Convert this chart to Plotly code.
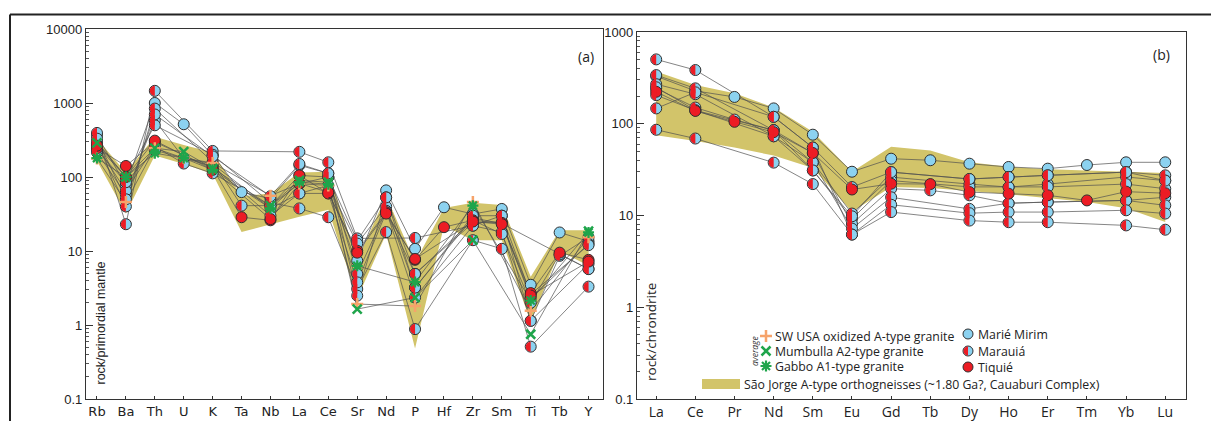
import plotly.graph_objects as go

W, H = 1211, 421

# ---------------- data : panel (a) spider diagram ----------------
elems_a = ["Rb", "Ba", "Th", "U", "K", "Ta", "Nb", "La", "Ce", "Sr",
           "Nd", "P", "Hf", "Zr", "Sm", "Ti", "Tb", "Y"]

band_a_upper = [330, 115, 350, 270, 215, 55, 60, 115, 118, 7.5,
                56, 7.0, 38, 45, 42, 4.5, 19, 19]
band_a_lower = [165, 32, 195, 150, 110, 18, 23, 29, 36, 2.3,
                17, 0.48, 22, 14, 14, 1.1, 10, 6.3]

marie_a = [
    [366, 77, 1000, 516, 196, 62.5, 51, 144, 112, 7.4, 66, 10.7, 39, 31.6, 37, 3.5, 17.8, 13.5],
]
tiquie_a = [
    [245, 141, 297, None, 131, 28.6, 26, 105, 60, 10.1, 33.5, 7.6, 21, 26, 24, 2.7, 9.5, 7.6],
    [265, 100, 310, None, 125, None, 27, 82, 62, 9.5, 32, 7.8, None, 25, 23, 2.5, None, 7.2],
]
marauia_a = [
    [394, 23, 1460, None, 225, None, None, 219, 158, 14.8, None, 15, None, 22, 30, 1.14, 8.6, 15.3],
    [285, 40, 840, None, 160, 41, 41, 105, 100, 13.8, 53, 4.9, None, 24, 24.6, 2.3, None, 12.5],
    [215, 58, 585, 180, 150, None, 37.6, 60, 77, 12.6, 40, 3.2, None, 28, 23.5, None, 9, 5.7],
    [300, 100, 500, None, 200, None, 45, 37.6, 28.6, 3.06, 18, 0.88, None, 14, 10.7, 0.51, None, 3.3],
    [260, 65, 260, 152, 112, None, 41, 81, 100, 4.9, 35, 2.35, None, 22, 18, 1.14, None, 6.7],
    [230, 85, 230, None, 140, None, 30, 60, 60, 3.77, 33, 4.9, None, 26, 17, 2.0, 9, 5.7],
    [330, 50, 700, None, 190, None, 55, 150, 112, 2.49, 53, 3.2, None, 30, 30, 2.6, None, 12],
]
sw_usa_a = [178, 46, 245, 180, 155, None, 56, 81, 77, 1.92, None, 1.8, None, 46, None, 1.56, None, 15.3]
mumbulla_a = [290, 100, 245, 220, 131, None, 41, 90, 85, 1.64, None, 2.35, None, 14, None, 0.75, None, 18.5]
gabbo_a = [180, 100, 210, 180, 125, None, 37.6, 85, 80, 6.3, None, 3.8, None, 41, None, 2.14, None, 17.8]

# ---------------- data : panel (b) REE diagram ----------------
elems_b = ["La", "Ce", "Pr", "Nd", "Sm", "Eu", "Gd", "Tb", "Dy", "Ho", "Er", "Tm", "Yb", "Lu"]

band_b_upper = [370, 265, 215, 150, 82, 30, 56, 51, 38, 34, 32, 31, 30, 29]
band_b_lower = [75, 65, 55, 45, 33, 11, 20.5, 20, 18.5, 17, 15.5, 14, 12, 8.5]

marie_b = [
    [330, 228, 196, 147, 76, 30, 41.6, 40, 36.7, 33.8, 32.4, 35.5, 38, 38],
]
tiquie_b = [
    [223, 138, 105, 81, 48, 19.2, 22.2, 22, 18, 17.3, 16.6, 14.6, 18.2, 17.5],
]
marauia_b = [
    [503, 385, None, 119, 55, 20.4, 29.7, None, 25, 26.3, 27.4, None, 29.7, 27.4],
    [339, 243, None, 85, 38, 10.5, 26.2, None, 22, 20.4, 22, None, 26.3, 24],
    [270, 210, None, 73, 31, 9.2, 24, None, 20.5, 20.4, 20.5, None, 22, 19.6],
    [243, 150, 111, 85, 48, 8.1, 19.6, 18.8, 16.6, 13.6, 14, None, 14.6, 15.8],
    [205, 140, None, 73, 38, 7.2, 15.8, None, 11.8, 13.6, 14, None, 14.6, 12.9],
    [147, 220, None, 119, 55, 6.2, 13.1, None, 10.6, 10.9, 10.9, None, 11.4, 10.5],
    [86, 69, None, 37.7, 22, 6.2, 10.9, None, 8.8, 8.45, 8.45, None, 7.8, 7.0],
    [250, 140, None, 85, 31, 9.8, 29.7, None, 25, 26.3, 27.4, None, 29.7, 24],
]

legend_avg = ["SW USA oxidized A-type granite", "Mumbulla A2-type granite", "Gabbo A1-type granite"]
legend_groups = ["Marié Mirim", "Marauiá", "Tiquié"]
legend_band = "São Jorge A-type orthogneisses (~1.80 Ga?, Cauaburi Complex)"

# ---------------- styles ----------------
BLUE = "#8cd2f0"
RED = "#ec1c24"
EDGE = "#2f2f2f"
BAND = "#d2c46a"
LINE = "#505050"
ORANGE = "#f6a36a"
GREEN = "#1fa54b"
MS = 11

PLUS_PATH = "M-6,0 L6,0 M0,-6 L0,6"
X_PATH = "M-4.5,-4.5 L4.5,4.5 M-4.5,4.5 L4.5,-4.5"
AST_PATH = "M-5.5,0 L5.5,0 M0,-5.5 L0,5.5 M-4,-4 L4,4 M-4,4 L4,-4"


def half_path(r):
    k = 0.5523 * r
    return f"M0,{r} C{-k},{r} {-r},{k} {-r},0 C{-r},{-k} {-k},{-r} 0,{-r} Z"


fig = go.Figure()
shapes = []


def px_x(v):
    return v / W


def px_y(v):
    return 1 - v / H


def add_panel(xa, ya, cats, up, lo, marie, tiquie, marauia, avgs):
    fig.add_trace(go.Scatter(
        x=cats + cats[::-1], y=up + lo[::-1], fill="toself", fillcolor=BAND,
        mode="lines", line=dict(width=0, color=BAND), hoverinfo="skip",
        showlegend=False, xaxis=xa, yaxis=ya))
    for s in marie + tiquie + marauia + [a[0] for a in avgs]:
        fig.add_trace(go.Scatter(x=cats, y=s, mode="lines", connectgaps=True,
                                 line=dict(color=LINE, width=0.7), hoverinfo="skip",
                                 showlegend=False, xaxis=xa, yaxis=ya))

    def flat(samples):
        xs, ys = [], []
        for s in samples:
            for c, v in zip(cats, s):
                if v is not None:
                    xs.append(c)
                    ys.append(v)
        return xs, ys

    xs, ys = flat(marie)
    fig.add_trace(go.Scatter(x=xs, y=ys, mode="markers", name=legend_groups[0],
                             marker=dict(size=MS, color=BLUE, line=dict(color=EDGE, width=1)),
                             showlegend=False, xaxis=xa, yaxis=ya))
    xs, ys = flat(marauia)
    fig.add_trace(go.Scatter(x=xs, y=ys, mode="markers", name=legend_groups[1],
                             marker=dict(size=MS, color=BLUE, line=dict(color=EDGE, width=1)),
                             showlegend=False, xaxis=xa, yaxis=ya))
    # red left halves of the Marauiá symbols, anchored on the same data points
    for c, v in zip(xs, ys):
        shapes.append(dict(type="path", xref=xa, yref=ya, xsizemode="pixel", ysizemode="pixel",
                           xanchor=cats.index(c), yanchor=v, path=half_path(5.0),
                           fillcolor=RED, line=dict(width=0), layer="above"))
    xs, ys = flat(tiquie)
    fig.add_trace(go.Scatter(x=xs, y=ys, mode="markers", name=legend_groups[2],
                             marker=dict(size=MS, color=RED, line=dict(color=EDGE, width=1)),
                             showlegend=False, xaxis=xa, yaxis=ya))
    # average compositions: symbols anchored on their data points (kept on top)
    for vals, name, path, col, lw in avgs:
        for i, v in enumerate(vals):
            if v is not None:
                shapes.append(dict(type="path", xref=xa, yref=ya, xsizemode="pixel",
                                   ysizemode="pixel", xanchor=i, yanchor=v, path=path,
                                   line=dict(color=col, width=lw), layer="above"))


avgs_a = [
    (sw_usa_a, legend_avg[0], PLUS_PATH, ORANGE, 2.5),
    (mumbulla_a, legend_avg[1], X_PATH, GREEN, 2.5),
    (gabbo_a, legend_avg[2], AST_PATH, GREEN, 2.2),
]
add_panel("x", "y", elems_a, band_a_upper, band_a_lower, marie_a, tiquie_a, marauia_a, avgs_a)
add_panel("x2", "y2", elems_b, band_b_upper, band_b_lower, marie_b, tiquie_b, marauia_b, [])

axis_common = dict(showline=True, mirror=True, linecolor="#333", linewidth=1.3,
                   showgrid=False, zeroline=False, automargin=False)
xfont_a = dict(family="DejaVu Sans", size=13, color="#222")
xfont_b = dict(family="Open Sans", size=14, color="#222")
yfont = dict(family="Liberation Sans, Arial", size=13, color="#222")

fig.update_layout(
    width=W, height=H, margin=dict(l=0, r=0, t=0, b=0),
    paper_bgcolor="white", plot_bgcolor="white", separators=".",
    font=dict(family="Open Sans", color="#222"), showlegend=False,
    xaxis=dict(domain=[px_x(86), px_x(603)], anchor="y", type="category",
               categoryorder="array", categoryarray=elems_a, range=[-0.38, 17.5],
               ticks="inside", ticklen=3, tickcolor="#333", tickfont=xfont_a, **axis_common),
    yaxis=dict(domain=[px_y(399), px_y(29)], anchor="x", type="log", range=[-1, 4],
               dtick=1, exponentformat="none", ticks="inside", ticklen=7, tickcolor="#333",
               minor=dict(ticks="inside", ticklen=3, tickcolor="#555", showgrid=False),
               tickfont=yfont, **axis_common),
    xaxis2=dict(domain=[px_x(637), px_x(1186)], anchor="y2", type="category",
                categoryorder="array", categoryarray=elems_b, range=[-0.49, 13.53],
                ticks="inside", ticklen=3, tickcolor="#333", tickfont=xfont_b, **axis_common),
    yaxis2=dict(domain=[px_y(399), px_y(32)], anchor="x2", type="log", range=[-1, 3],
                dtick=1, exponentformat="none", ticks="inside", ticklen=7, tickcolor="#333",
                minor=dict(ticks="inside", ticklen=3, tickcolor="#555", showgrid=False),
                tickfont=yfont, **axis_common),
)

# ---------------- hand-built legend (layout decoration, pixel positions) ----------------
LEG_FONT = dict(family="Open Sans", size=12.3, color="#222")
col1_x, col1_text = 766, 774
col2_x, col2_text = 968, 977
rows1 = [336, 351, 366]
rows2 = [334, 351, 367]


def pix_shape(cx, cy, path, **kw):
    d = dict(type="path", xref="paper", yref="paper", xsizemode="pixel", ysizemode="pixel",
             xanchor=px_x(cx), yanchor=px_y(cy), path=path, layer="above")
    d.update(kw)
    return d


for (_, _, path, col, lw), cy in zip(avgs_a, rows1):
    shapes.append(pix_shape(col1_x, cy, path, line=dict(color=col, width=lw)))
for i, cy in enumerate(rows2):
    r = 5
    shapes.append(dict(type="circle", xref="paper", yref="paper", layer="above",
                       x0=px_x(col2_x - r), x1=px_x(col2_x + r), y0=px_y(cy + r), y1=px_y(cy - r),
                       fillcolor=RED if i == 2 else BLUE, line=dict(color=EDGE, width=1)))
shapes.append(pix_shape(col2_x, rows2[1], half_path(4.5), fillcolor=RED, line=dict(width=0)))
shapes.append(dict(type="rect", xref="paper", yref="paper", layer="above",
                   x0=px_x(702), x1=px_x(740), y0=px_y(389), y1=px_y(379),
                   fillcolor=BAND, line=dict(width=0)))

for txt, cy in zip(legend_avg, rows1):
    fig.add_annotation(text=txt, x=px_x(col1_text), y=px_y(cy), xref="paper", yref="paper",
                       xanchor="left", yanchor="middle", showarrow=False, borderpad=0, font=LEG_FONT)
for txt, cy in zip(legend_groups, rows2):
    fig.add_annotation(text=txt, x=px_x(col2_text), y=px_y(cy), xref="paper", yref="paper",
                       xanchor="left", yanchor="middle", showarrow=False, borderpad=0, font=LEG_FONT)
fig.add_annotation(text=legend_band, x=px_x(743), y=px_y(384), xref="paper", yref="paper",
                   xanchor="left", yanchor="middle", showarrow=False, borderpad=0, font=LEG_FONT)
fig.add_annotation(text="average", x=px_x(754), y=px_y(351), xref="paper", yref="paper",
                   xanchor="center", yanchor="middle", textangle=-90, showarrow=False, borderpad=0,
                   font=dict(family="Open Sans", size=8.5, color="#333", style="italic"))

fig.add_annotation(text="(a)", x=px_x(586), y=px_y(45), xref="paper", yref="paper",
                   showarrow=False, font=dict(family="Open Sans", size=14, color="#222"))
fig.add_annotation(text="(b)", x=px_x(1172), y=px_y(43), xref="paper", yref="paper",
                   showarrow=False, font=dict(family="Open Sans", size=14, color="#222"))
fig.add_annotation(text="rock/primordial mantle", x=px_x(100), y=px_y(387), xref="paper",
                   yref="paper", xanchor="center", yanchor="bottom", textangle=-90,
                   showarrow=False, font=dict(family="Liberation Sans, Arial", size=12.5, color="#222"))
fig.add_annotation(text="rock/chrondrite", x=px_x(651), y=px_y(383), xref="paper",
                   yref="paper", xanchor="center", yanchor="bottom", textangle=-90,
                   showarrow=False, font=dict(family="Open Sans", size=13.5, color="#222"))

# outer frame (top and left rules)
shapes.append(dict(type="line", xref="paper", yref="paper", x0=px_x(10), x1=1,
                   y0=px_y(14.5), y1=px_y(14.5), line=dict(color="#222", width=2)))
shapes.append(dict(type="line", xref="paper", yref="paper", x0=px_x(10), x1=px_x(10),
                   y0=0, y1=px_y(14.5), line=dict(color="#222", width=2)))

fig.update_layout(shapes=shapes)
fig.write_html("out.html")
